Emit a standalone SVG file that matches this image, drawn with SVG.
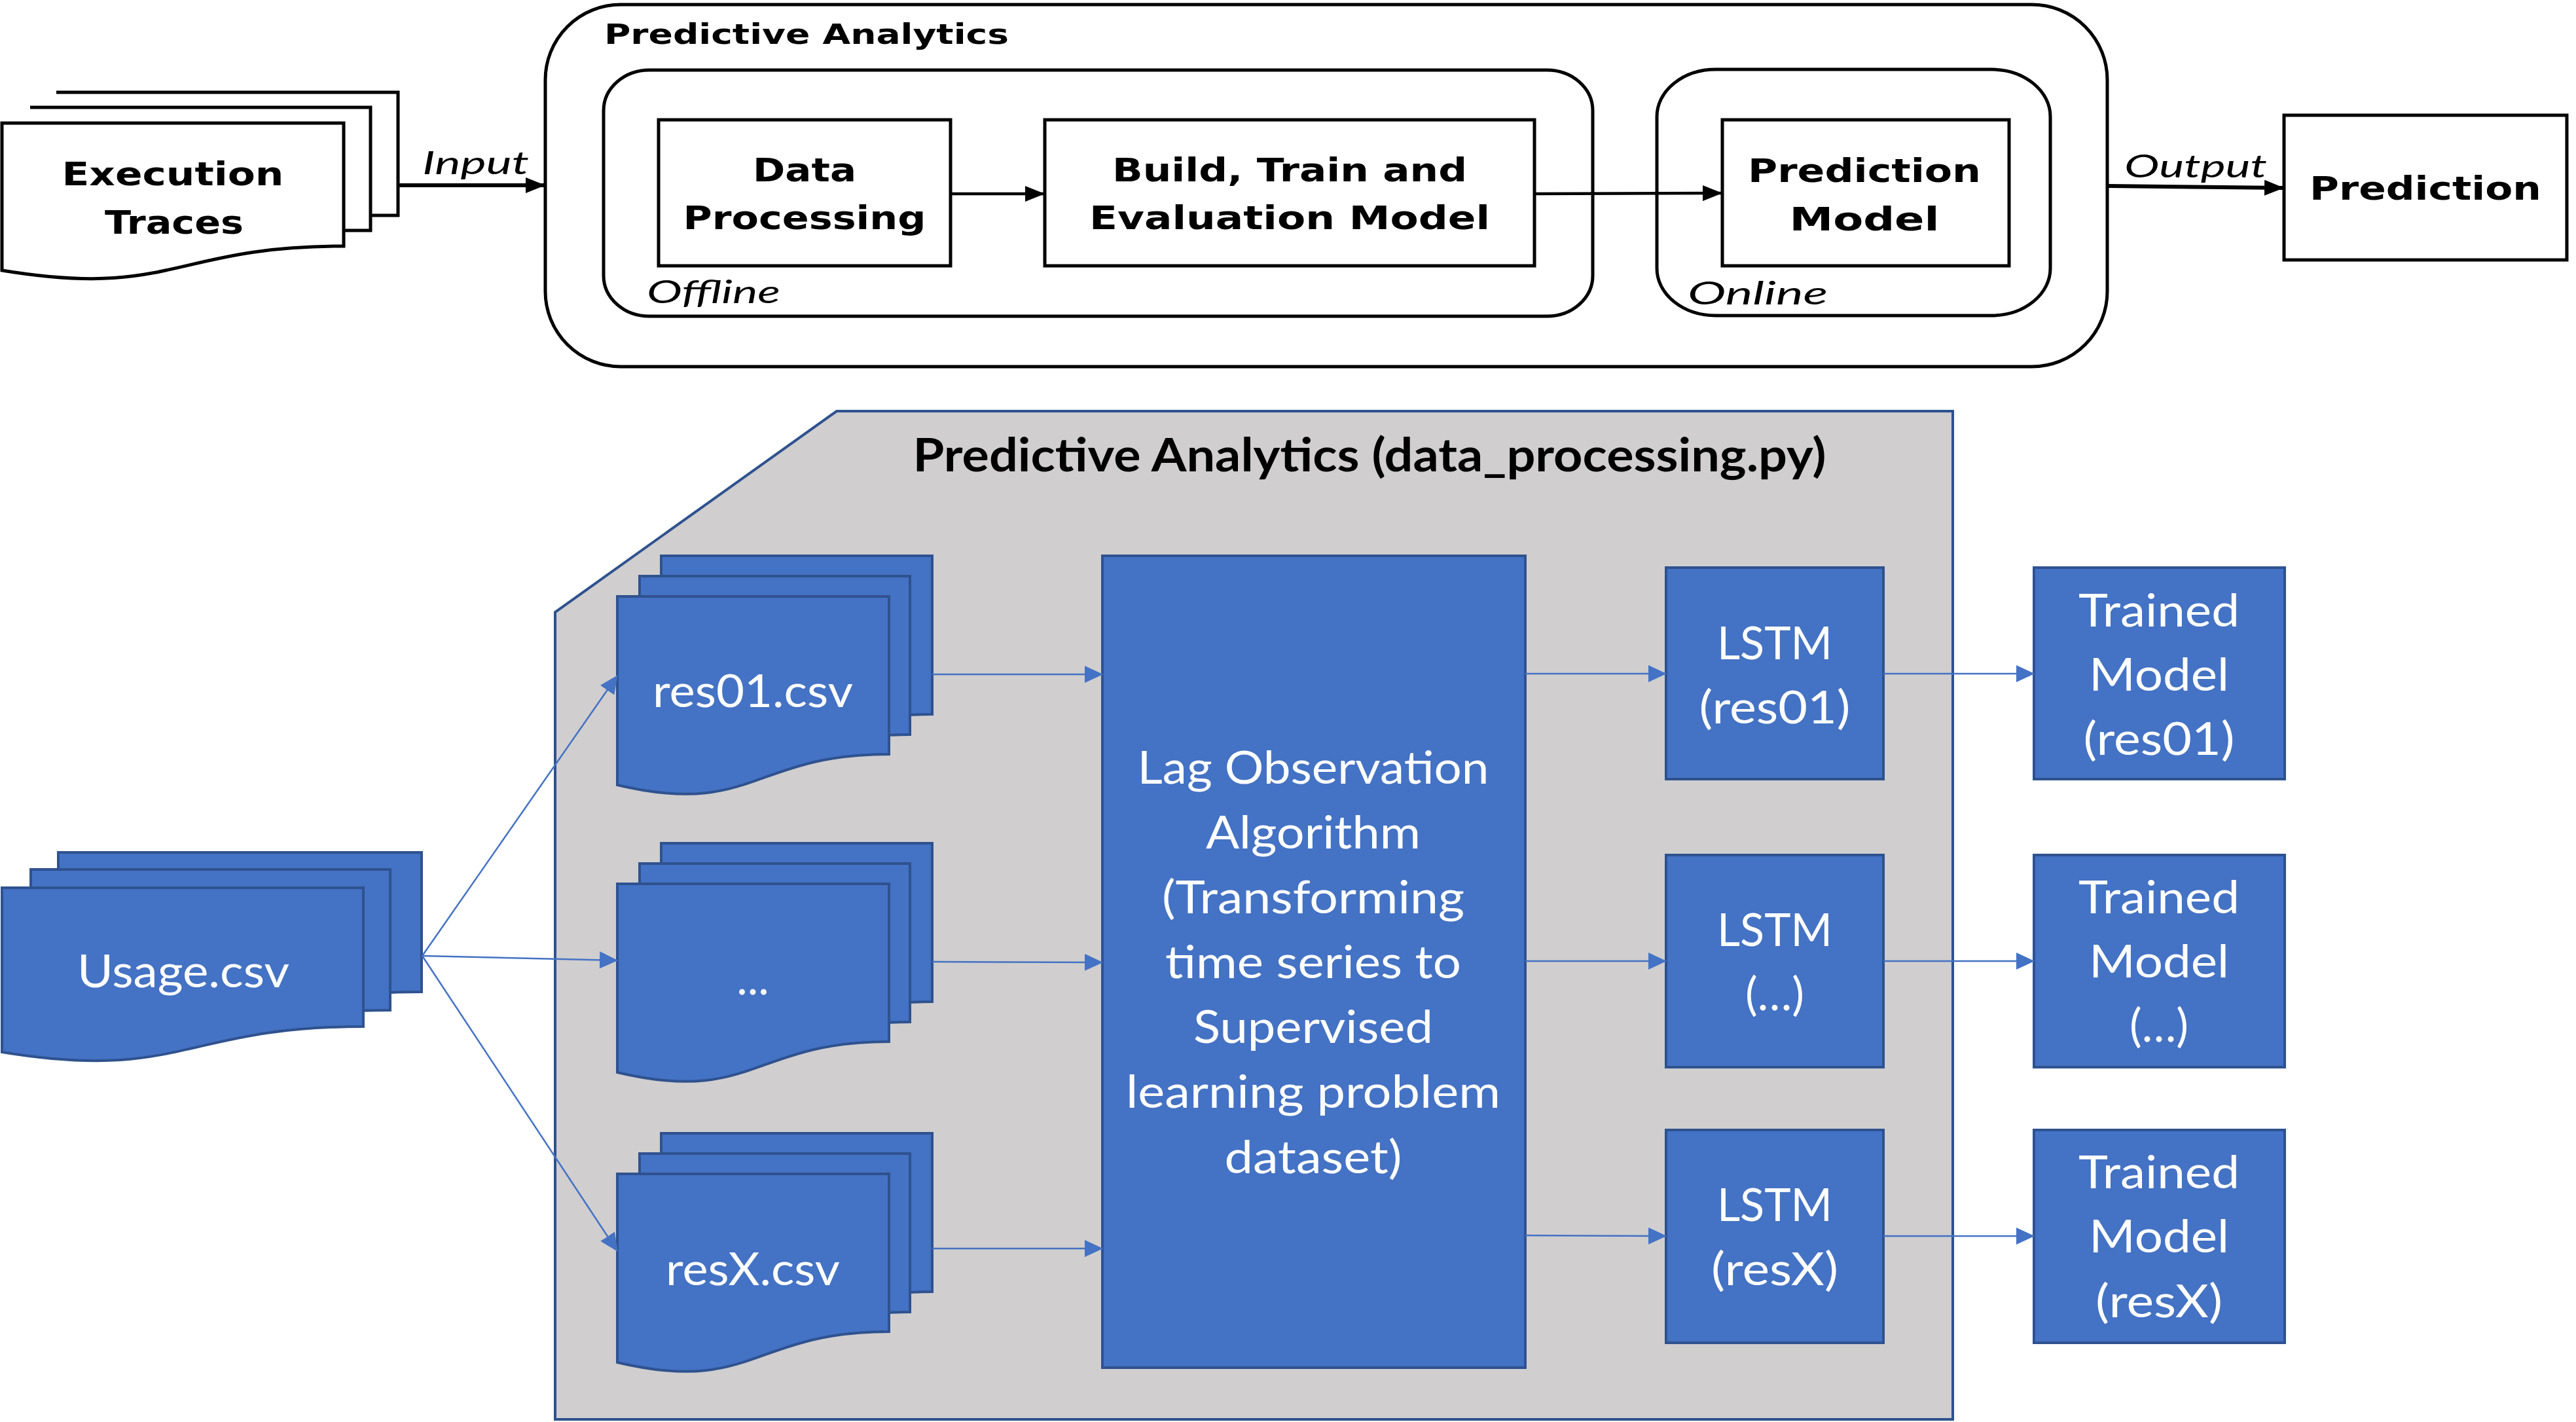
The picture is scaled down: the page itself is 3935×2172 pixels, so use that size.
<svg xmlns="http://www.w3.org/2000/svg" width="3935" height="2172" viewBox="0 0 3935 2172">
<defs>
<style>
.bk{fill:#fff;stroke:#000;stroke-width:5}
.bl{fill:none;stroke:#000;stroke-width:5}
.tb{font-family:"DejaVu Sans","Liberation Sans",sans-serif;font-weight:bold;font-size:50px;fill:#000;text-anchor:middle}
.ti{font-family:Lato,"Liberation Sans",sans-serif;font-style:italic;font-size:48px;fill:#000}
.doc{fill:#4472C4;stroke:#2F528F;stroke-width:4;stroke-linejoin:miter}
.bx{fill:#4472C4;stroke:#2F528F;stroke-width:4}
.tw{font-family:Lato,"Liberation Sans",sans-serif;font-size:70px;fill:#fff;text-anchor:middle}
.cn{fill:none;stroke:#4472C4;stroke-width:2.5}
.ck{fill:none;stroke:#000;stroke-width:6}
</style>
<marker id="ab" markerUnits="userSpaceOnUse" markerWidth="30" markerHeight="24" refX="28" refY="12" orient="auto" viewBox="0 0 30 24"><path d="M0,0 L30,12 L0,24 Z" fill="#000"/></marker>
<marker id="au" markerUnits="userSpaceOnUse" markerWidth="28" markerHeight="26" refX="27" refY="13" orient="auto" viewBox="0 0 28 26"><path d="M0,0 L28,13 L0,26 Z" fill="#4472C4"/></marker>
</defs>

<!-- Top section -->
<g id="execution-traces">
<path class="bk" d="M86,141 H608 V329 H566"/>
<path class="bk" d="M46,164 H566 V352 H525"/>
<path class="bk" d="M3,188 H525 V376 C264,376 264,456 3,413 Z"/>
<text class="tb" x="264" y="283" textLength="339" lengthAdjust="spacingAndGlyphs">Execution</text>
<text class="tb" x="266" y="357" textLength="212" lengthAdjust="spacingAndGlyphs">Traces</text>
</g>

<g id="predictive-analytics-top">
<rect class="bk" x="833" y="7" width="2386" height="553" rx="115" ry="115"/>
<text class="tb" x="923" y="67" style="text-anchor:start;font-size:43px" textLength="618" lengthAdjust="spacingAndGlyphs">Predictive Analytics</text>
</g>

<g id="offline">
<rect class="bk" x="922" y="107" width="1511" height="376" rx="70" ry="62"/>
<text class="ti" x="988" y="463" textLength="204" lengthAdjust="spacingAndGlyphs">Offline</text>
</g>

<g id="online">
<rect class="bk" x="2531" y="106" width="601" height="376" rx="90" ry="72"/>
<text class="ti" x="2578" y="465" textLength="214" lengthAdjust="spacingAndGlyphs">Online</text>
</g>

<g id="data-processing">
<rect class="bk" x="1006" y="183" width="446" height="223"/>
<text class="tb" x="1229" y="277" textLength="158" lengthAdjust="spacingAndGlyphs">Data</text>
<text class="tb" x="1229" y="350" textLength="371" lengthAdjust="spacingAndGlyphs">Processing</text>
</g>

<g id="build-train">
<rect class="bk" x="1596" y="183" width="748" height="223"/>
<text class="tb" x="1970" y="277" textLength="542" lengthAdjust="spacingAndGlyphs">Build, Train and</text>
<text class="tb" x="1970" y="350" textLength="612" lengthAdjust="spacingAndGlyphs">Evaluation Model</text>
</g>

<g id="prediction-model">
<rect class="bk" x="2631" y="183" width="438" height="223"/>
<text class="tb" x="2848" y="278" textLength="356" lengthAdjust="spacingAndGlyphs">Prediction</text>
<text class="tb" x="2848" y="352" textLength="229" lengthAdjust="spacingAndGlyphs">Model</text>
</g>

<g id="prediction">
<rect class="bk" x="3489" y="176" width="432" height="221"/>
<text class="tb" x="3705" y="305" textLength="354" lengthAdjust="spacingAndGlyphs">Prediction</text>
</g>

<g id="top-connectors">
<line class="ck" x1="608" y1="283" x2="831" y2="283" marker-end="url(#ab)"/>
<text class="ti" x="645" y="266" textLength="163" lengthAdjust="spacingAndGlyphs">Input</text>
<line class="bl" x1="1452" y1="296" x2="1594" y2="296" marker-end="url(#ab)" style="stroke-width:4.5"/>
<line class="bl" x1="2344" y1="296" x2="2629" y2="295" marker-end="url(#ab)" style="stroke-width:4.5"/>
<line class="ck" x1="3219" y1="284" x2="3487" y2="287" marker-end="url(#ab)"/>
<text class="ti" x="3245" y="271" textLength="218" lengthAdjust="spacingAndGlyphs">Output</text>
</g>

<!-- Bottom section -->
<g id="panel">
<path d="M1278,628 H2983 V2168 H848 V935 Z" fill="#D0CECE" stroke="#2F528F" stroke-width="4"/>
<text x="2092" y="720" style="font-family:Lato,'Liberation Sans',sans-serif;font-weight:bold;font-size:70px;fill:#000;text-anchor:middle" textLength="1395" lengthAdjust="spacingAndGlyphs">Predictive Analytics (data_processing.py)</text>
</g>

<g id="usage-csv">
<path class="doc" d="M89,1302 H644 V1515 C366,1515 366,1599 89,1554 Z"/>
<path class="doc" d="M47,1328 H596 V1543 C321,1543 321,1627 47,1582 Z"/>
<path class="doc" d="M3,1356 H555 V1568 C279,1568 279,1652 3,1607 Z"/>
<text class="tw" x="280" y="1508" textLength="324" lengthAdjust="spacingAndGlyphs">Usage.csv</text>
</g>

<g id="res01-csv">
<path class="doc" d="M1010,849 H1424 V1091 C1217,1091 1217,1186 1010,1137 Z"/>
<path class="doc" d="M977,880 H1390 V1122 C1183,1122 1183,1217 977,1168 Z"/>
<path class="doc" d="M943,911 H1358 V1152 C1150,1152 1150,1248 943,1199 Z"/>
<text class="tw" x="1150" y="1080" textLength="306" lengthAdjust="spacingAndGlyphs">res01.csv</text>
</g>

<g id="resdots-csv">
<path class="doc" d="M1010,1288 H1424 V1530 C1217,1530 1217,1625 1010,1576 Z"/>
<path class="doc" d="M977,1319 H1390 V1561 C1183,1561 1183,1656 977,1607 Z"/>
<path class="doc" d="M943,1350 H1358 V1591 C1150,1591 1150,1687 943,1638 Z"/>
<text class="tw" x="1150" y="1519">...</text>
</g>

<g id="resx-csv">
<path class="doc" d="M1010,1731 H1424 V1973 C1217,1973 1217,2068 1010,2019 Z"/>
<path class="doc" d="M977,1762 H1390 V2004 C1183,2004 1183,2099 977,2050 Z"/>
<path class="doc" d="M943,1793 H1358 V2034 C1150,2034 1150,2130 943,2081 Z"/>
<text class="tw" x="1150" y="1963" textLength="266" lengthAdjust="spacingAndGlyphs">resX.csv</text>
</g>

<g id="lag-observation">
<rect class="bx" x="1684" y="849" width="646" height="1240"/>
<text class="tw" x="2006" y="1197" textLength="537" lengthAdjust="spacingAndGlyphs">Lag Observation</text>
<text class="tw" x="2006" y="1296" textLength="328" lengthAdjust="spacingAndGlyphs">Algorithm</text>
<text class="tw" x="2006" y="1395" textLength="462" lengthAdjust="spacingAndGlyphs">(Transforming</text>
<text class="tw" x="2006" y="1494" textLength="452" lengthAdjust="spacingAndGlyphs">time series to</text>
<text class="tw" x="2006" y="1593" textLength="366" lengthAdjust="spacingAndGlyphs">Supervised</text>
<text class="tw" x="2006" y="1692" textLength="572" lengthAdjust="spacingAndGlyphs">learning problem</text>
<text class="tw" x="2006" y="1792" textLength="271" lengthAdjust="spacingAndGlyphs">dataset)</text>
</g>

<g id="lstm-res01">
<rect class="bx" x="2545" y="867" width="332" height="323"/>
<text class="tw" x="2711" y="1007" textLength="176" lengthAdjust="spacingAndGlyphs">LSTM</text>
<text class="tw" x="2711" y="1105" textLength="231" lengthAdjust="spacingAndGlyphs">(res01)</text>
</g>
<g id="lstm-dots">
<rect class="bx" x="2545" y="1306" width="332" height="324"/>
<text class="tw" x="2711" y="1445" textLength="176" lengthAdjust="spacingAndGlyphs">LSTM</text>
<text class="tw" x="2711" y="1543">(…)</text>
</g>
<g id="lstm-resx">
<rect class="bx" x="2545" y="1726" width="332" height="325"/>
<text class="tw" x="2711" y="1865" textLength="176" lengthAdjust="spacingAndGlyphs">LSTM</text>
<text class="tw" x="2711" y="1963" textLength="194" lengthAdjust="spacingAndGlyphs">(resX)</text>
</g>

<g id="trained-res01">
<rect class="bx" x="3107" y="867" width="383" height="323"/>
<text class="tw" x="3298" y="957" textLength="246" lengthAdjust="spacingAndGlyphs">Trained</text>
<text class="tw" x="3298" y="1055" textLength="214" lengthAdjust="spacingAndGlyphs">Model</text>
<text class="tw" x="3298" y="1153" textLength="231" lengthAdjust="spacingAndGlyphs">(res01)</text>
</g>
<g id="trained-dots">
<rect class="bx" x="3107" y="1306" width="383" height="324"/>
<text class="tw" x="3298" y="1395" textLength="246" lengthAdjust="spacingAndGlyphs">Trained</text>
<text class="tw" x="3298" y="1493" textLength="214" lengthAdjust="spacingAndGlyphs">Model</text>
<text class="tw" x="3298" y="1591">(…)</text>
</g>
<g id="trained-resx">
<rect class="bx" x="3107" y="1726" width="383" height="325"/>
<text class="tw" x="3298" y="1815" textLength="246" lengthAdjust="spacingAndGlyphs">Trained</text>
<text class="tw" x="3298" y="1913" textLength="214" lengthAdjust="spacingAndGlyphs">Model</text>
<text class="tw" x="3298" y="2012" textLength="194" lengthAdjust="spacingAndGlyphs">(resX)</text>
</g>

<g id="connectors">
<line class="cn" x1="645" y1="1460" x2="943" y2="1032" marker-end="url(#au)"/>
<line class="cn" x1="645" y1="1460" x2="943" y2="1467" marker-end="url(#au)"/>
<line class="cn" x1="645" y1="1460" x2="943" y2="1911" marker-end="url(#au)"/>
<line class="cn" x1="1424" y1="1030" x2="1684" y2="1030" marker-end="url(#au)"/>
<line class="cn" x1="1424" y1="1469" x2="1684" y2="1470" marker-end="url(#au)"/>
<line class="cn" x1="1424" y1="1907" x2="1684" y2="1907" marker-end="url(#au)"/>
<line class="cn" x1="2330" y1="1029" x2="2545" y2="1029" marker-end="url(#au)"/>
<line class="cn" x1="2330" y1="1468" x2="2545" y2="1468" marker-end="url(#au)"/>
<line class="cn" x1="2330" y1="1887" x2="2545" y2="1888" marker-end="url(#au)"/>
<line class="cn" x1="2877" y1="1029" x2="3107" y2="1029" marker-end="url(#au)"/>
<line class="cn" x1="2877" y1="1468" x2="3107" y2="1468" marker-end="url(#au)"/>
<line class="cn" x1="2877" y1="1888" x2="3107" y2="1888" marker-end="url(#au)"/>
</g>
</svg>
